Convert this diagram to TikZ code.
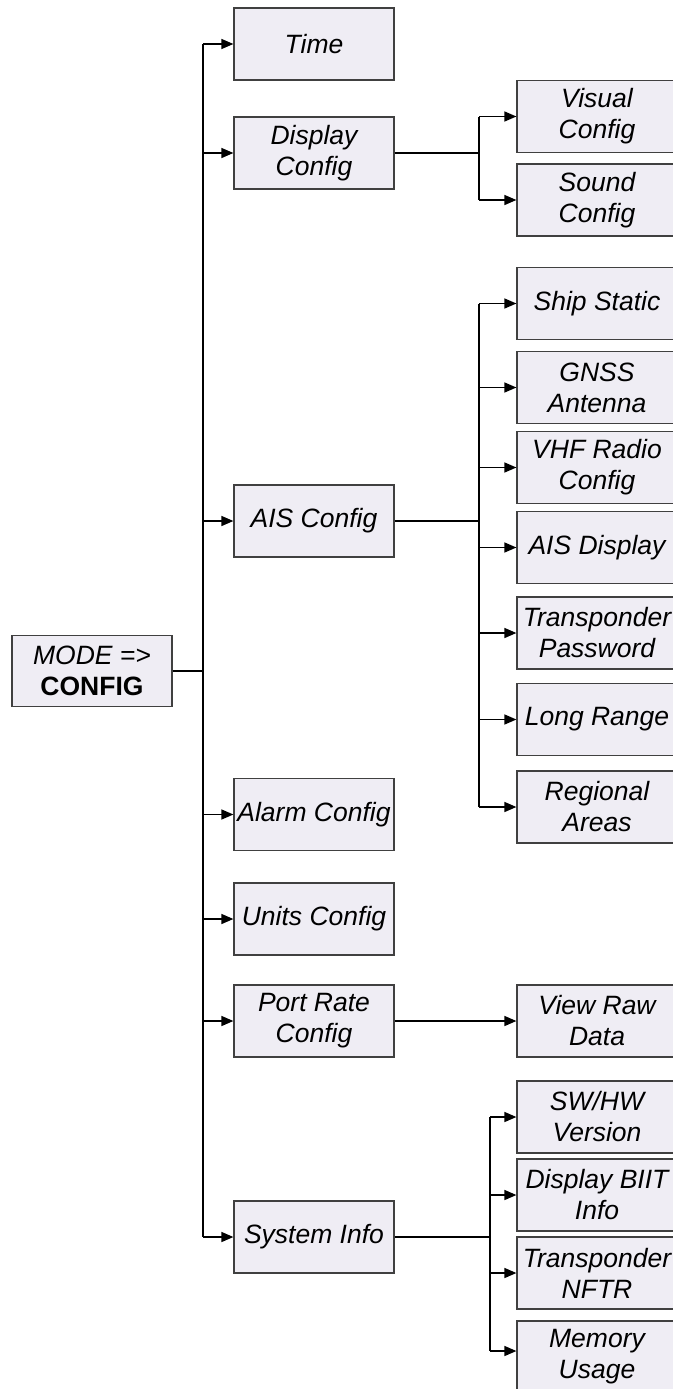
\documentclass[tikz,border=0pt]{standalone}
\usepackage{fontspec}
\setmainfont{Liberation Sans}
\usetikzlibrary{arrows.meta}
\definecolor{boxfill}{HTML}{EFEDF4}
\definecolor{boxline}{HTML}{404040}
\begin{document}
\begin{tikzpicture}[x=1pt,y=-1pt,
  box/.style={draw=boxline, fill=boxfill, line width=1.2pt, minimum width=160pt,
    minimum height=72pt, inner sep=0pt, align=center,
    font=\fontsize{26.5}{31}\selectfont\itshape, text=black},
  link/.style={line width=1.4pt, black},
  trunk/.style={line width=1.9pt, black},
  arr/.style={link, -{Triangle[length=12pt,width=10pt]}}]
\useasboundingbox (0,0) rectangle (672,1389);

% root
\node[box, minimum height=71pt] (mode) at (92,671) {MODE =>\\{\upshape\bfseries CONFIG}};

% level 1
\node[box] (time)  at (314,44)    {Time};
\node[box] (disp)  at (314,153)   {Display\\Config};
\node[box] (ais)   at (314,521)   {AIS Config};
\node[box] (alarm) at (314,814.5) {Alarm Config};
\node[box] (units) at (314,919)   {Units Config};
\node[box] (port)  at (314,1021)  {Port Rate\\Config};
\node[box] (sys)   at (314,1237)  {System Info};

% level 2: display
\node[box] (vis) at (597,116.5) {Visual\\Config};
\node[box] (snd) at (597,200)   {Sound\\Config};

% level 2: AIS
\node[box] (ship) at (597,303.5) {Ship Static};
\node[box] (gnss) at (597,387.5) {GNSS\\Antenna};
\node[box] (vhf)  at (597,467.5) {VHF Radio\\Config};
\node[box] (aisd) at (597,547.5) {AIS Display};
\node[box] (tpw)  at (597,633)   {Transponder\\Password};
\node[box] (lr)   at (597,719.5) {Long Range};
\node[box] (ra)   at (597,807)   {Regional\\Areas};

% level 2: port
\node[box] (raw) at (597,1021) {View Raw\\Data};

% level 2: system info
\node[box] (swhw) at (597,1117) {SW/HW\\Version};
\node[box] (biit) at (597,1195) {Display BIIT\\Info};
\node[box] (nftr) at (597,1273) {Transponder\\NFTR};
\node[box] (mem)  at (597,1357) {Memory\\Usage};

% branch columns
\coordinate (t0) at (203,0);
\coordinate (bd) at (479,0);
\coordinate (ba) at (479,0);
\coordinate (bs) at (490,0);

% root to trunk
\draw[link] (mode.east) -- (t0 |- mode.east);
\draw[trunk] (t0 |- time) -- (t0 |- sys);
\foreach \n in {time,disp,ais,alarm,units,port,sys}
  \draw[arr] (t0 |- \n) -- (\n.west);

% display branch
\draw[link] (disp.east) -- (bd |- disp.east);
\draw[link] (bd |- vis) -- (bd |- snd);
\foreach \n in {vis,snd}
  \draw[arr] (bd |- \n) -- (\n.west);

% AIS branch
\draw[link] (ais.east) -- (ba |- ais.east);
\draw[link] (ba |- ship) -- (ba |- ra);
\foreach \n in {ship,gnss,vhf,aisd,tpw,lr,ra}
  \draw[arr] (ba |- \n) -- (\n.west);

% port branch
\draw[arr] (port.east) -- (raw.west);

% system info branch
\draw[link] (sys.east) -- (bs |- sys.east);
\coordinate (memin) at ([yshift=6pt]mem.west);
\draw[link] (bs |- swhw) -- (bs |- memin);
\foreach \n in {swhw,biit,nftr}
  \draw[arr] (bs |- \n) -- (\n.west);
\draw[arr] (bs |- memin) -- (memin);
\end{tikzpicture}
\end{document}
